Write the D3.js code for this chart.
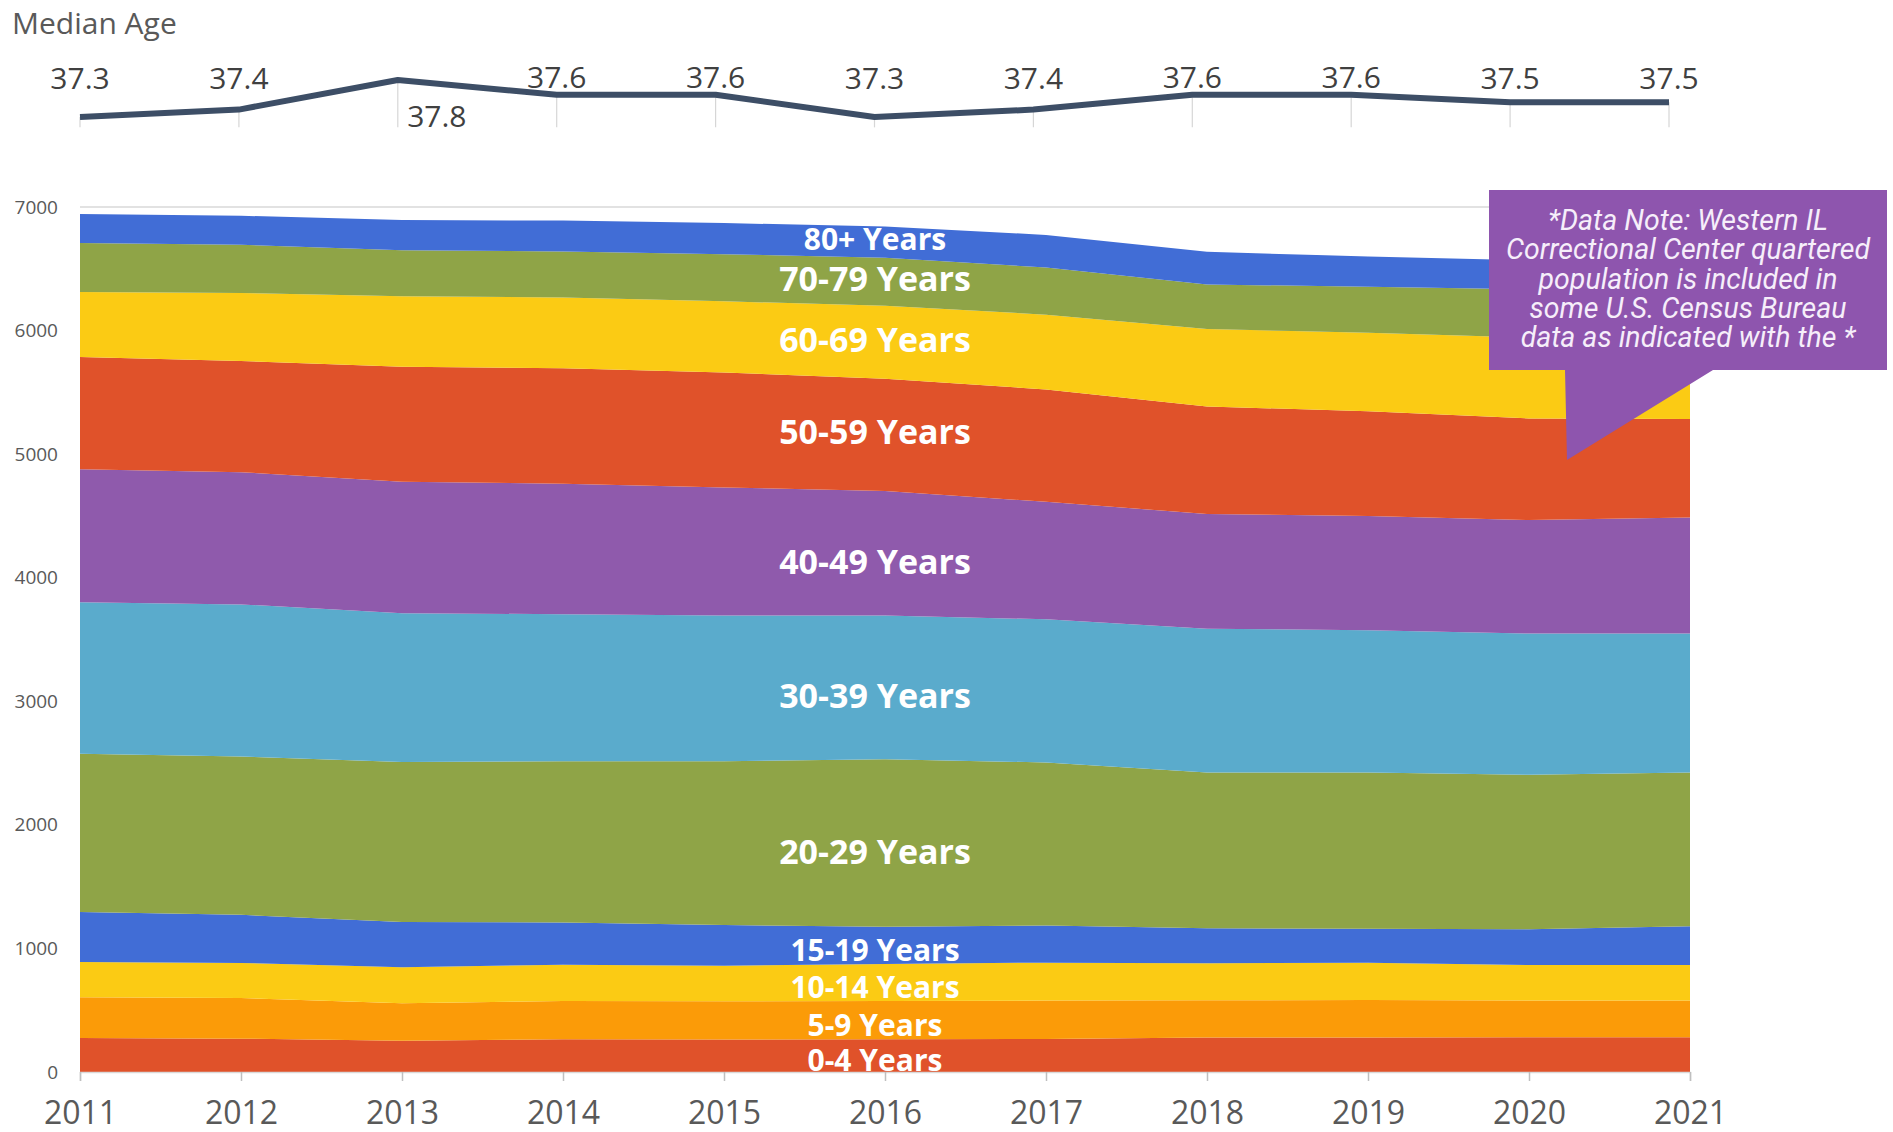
<!DOCTYPE html>
<html><head><meta charset="utf-8">
<script src="https://cdn.jsdelivr.net/npm/d3@7"></script>
<style>
html,body{margin:0;padding:0;background:#fff;}
svg{display:block;font-family:"Open Sans",sans-serif;}
</style></head><body>
<svg id="chart" width="1893" height="1132"></svg>
<script>
// ---------- data ----------
const years = [2011,2012,2013,2014,2015,2016,2017,2018,2019,2020,2021];
const medianAge = [37.3,37.4,37.8,37.6,37.6,37.3,37.4,37.6,37.6,37.5,37.5];
const ageGroups = ["0-4 Years","5-9 Years","10-14 Years","15-19 Years","20-29 Years","30-39 Years","40-49 Years","50-59 Years","60-69 Years","70-79 Years","80+ Years"];
const age0_4   = [275,270,252,265,262,265,268,280,280,282,282];
const age5_9   = [330,328,305,310,310,310,310,300,302,296,296];
const age10_14 = [286,285,291,293,288,300,307,300,303,287,287];
const age15_19 = [404,389,366,342,330,300,300,283,275,290,315];
const age20_29 = [1280,1281,1294,1305,1325,1356,1320,1261,1264,1250,1244];
const age30_39 = [1227,1231,1204,1190,1180,1164,1158,1164,1151,1143,1124];
const age40_49 = [1076,1070,1065,1055,1036,1007,951,928,925,919,939];
const age50_59 = [909,900,930,935,929,909,909,870,847,822,798];
const age60_69 = [526,551,571,573,577,589,606,626,636,655,655];
const age70_79 = [395,389,372,372,381,390,381,361,372,391,380];
const age80p   = [235,235,244,250,252,253,264,264,245,233,230];
const seriesValues = [age0_4,age5_9,age10_14,age15_19,age20_29,age30_39,age40_49,age50_59,age60_69,age70_79,age80p];
const groupColors = ["#e0522a","#fb9b08","#fbcb14","#416dd6","#8fa447","#5aabcc","#8f5aac","#e0522a","#fbcb14","#8fa447","#416dd6"];
const labelSizes = [30,30,30,30,34,34,34,34,34,34,30];
const yTicks = [0,1000,2000,3000,4000,5000,6000,7000];
const noteLines = ["*Data Note: Western IL","Correctional Center quartered","population is included in","some U.S. Census Bureau","data as indicated with the *"];

// ---------- layout ----------
const svg = d3.select("#chart");
const plot = {left:80, right:1690, top:207, bottom:1072};
const x = d3.scaleLinear().domain([2011,2021]).range([plot.left, plot.right]);
const y = d3.scaleLinear().domain([0,7000]).range([plot.bottom, plot.top]);

// table for stacking
const table = years.map((yr,i)=>{
  const row = {year:yr};
  ageGroups.forEach((g,k)=>row[g]=seriesValues[k][i]);
  return row;
});
const stacked = d3.stack().keys(ageGroups)(table);

// gridlines
svg.append("g").selectAll("line").data(yTicks).join("line")
  .attr("x1",plot.left).attr("x2",plot.right)
  .attr("y1",d=>y(d)).attr("y2",d=>y(d))
  .attr("stroke","#d9d9d9").attr("stroke-width",1.5);

// areas
const area = d3.area().x(d=>x(d.data.year)).y0(d=>y(d[0])).y1(d=>y(d[1])).curve(d3.curveLinear);
svg.append("g").selectAll("path").data(stacked).join("path")
  .attr("d",area).attr("fill",(d,i)=>groupColors[i]);

// y axis
const yAxis = svg.append("g").attr("transform",`translate(${plot.left},0)`)
  .call(d3.axisLeft(y).tickValues(yTicks).tickSize(0).tickPadding(22).tickFormat(d3.format("d")));
yAxis.select(".domain").remove();
yAxis.selectAll("text").attr("font-size",19).attr("fill","#595959").attr("font-family","Open Sans");

// x axis
const xAxis = svg.append("g").attr("transform",`translate(0,${plot.bottom})`)
  .call(d3.axisBottom(x).tickValues(years).tickSize(9).tickPadding(20).tickFormat(d3.format("d")));
xAxis.select(".domain").attr("stroke","#d9d9d9").attr("stroke-width",1.5);
xAxis.selectAll(".tick line").attr("stroke","#bfbfbf").attr("stroke-width",1.5);
xAxis.selectAll("text").attr("font-size",32).attr("fill","#595959").attr("font-family","Open Sans");

// area labels (clipped to plot band)
svg.append("clipPath").attr("id","lblclip").append("rect")
  .attr("x",plot.left).attr("y",y(6840)).attr("width",plot.right-plot.left).attr("height",plot.bottom-y(6840));
const labelYearIdx = years.indexOf(2016);
svg.append("g").attr("clip-path","url(#lblclip)").selectAll("text").data(stacked).join("text")
  .attr("x",x(2016)-10)
  .attr("y",d=>y((d[labelYearIdx][0]+d[labelYearIdx][1])/2))
  .attr("dy",(d,i)=> i>=7 ? "0.28em" : (i>=4 ? "0.62em" : "0.52em"))
  .attr("text-anchor","middle")
  .attr("font-weight",700)
  .attr("font-size",(d,i)=>labelSizes[i])
  .attr("fill","#ffffff")
  .text(d=>d.key);

// ---------- median age panel ----------
const mx = d3.scaleLinear().domain([2011,2021]).range([80,1669]);
const my = d3.scaleLinear().domain([37.3,37.8]).range([117,80]);
svg.append("text").attr("x",12).attr("y",34).attr("font-size",30).attr("fill","#595959").text("Median Age");
svg.append("g").selectAll("line").data(years).join("line")
  .attr("x1",d=>mx(d)).attr("x2",d=>mx(d))
  .attr("y1",(d,i)=>my(medianAge[i])).attr("y2",my(37.16))
  .attr("stroke","#d6d6d6").attr("stroke-width",1.2);
svg.append("path").datum(medianAge)
  .attr("d",d3.line().x((d,i)=>mx(years[i])).y(d=>my(d)))
  .attr("fill","none").attr("stroke","#3d4e66").attr("stroke-width",6).attr("stroke-linejoin","round");
const maxAge = d3.max(medianAge);
svg.append("g").selectAll("text").data(medianAge).join("text")
  .attr("x",(d,i)=> d===maxAge ? mx(years[i])+39 : mx(years[i]))
  .attr("y",d=> d===maxAge ? my(d)+36 : Math.min(my(d)-18, 78))
  .attr("dy","0.36em")
  .attr("text-anchor","middle")
  .attr("font-size",30).attr("fill","#404040")
  .text(d=>d.toFixed(1));

// ---------- data note callout ----------
const note = svg.append("g");
note.append("path")
  .attr("d","M1489,190 L1887,190 L1887,370 L1713,370 L1567,460 L1565,370 L1489,370 Z")
  .attr("fill","#8e55ae");
note.selectAll("text").data(noteLines).join("text")
  .attr("x",1688).attr("y",(d,i)=>220+i*29.2).attr("dy","0.36em")
  .attr("text-anchor","middle").attr("font-family","Roboto").attr("font-style","italic")
  .attr("font-size",28.5).attr("fill","#f6eefa").text(d=>d);
</script>
</body></html>
